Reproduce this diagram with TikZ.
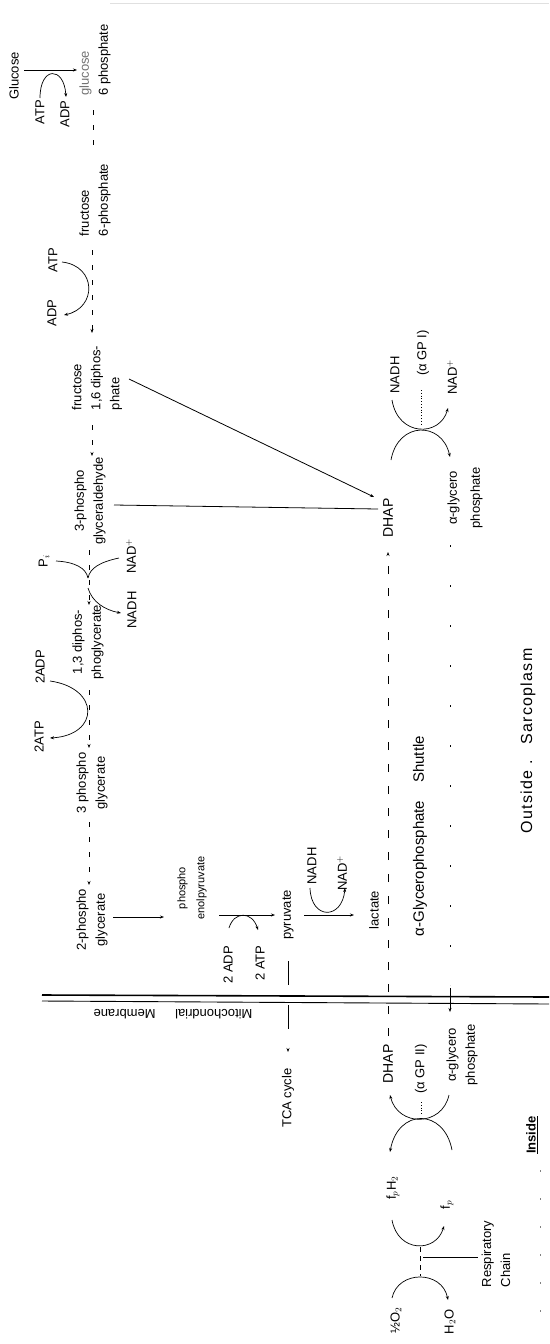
\documentclass[tikz,border=0pt]{standalone}
\usepackage{fontspec}
\setmainfont{Liberation Sans}
\usetikzlibrary{arrows.meta}
\begin{document}
\begin{tikzpicture}[x=1pt,y=-1pt,
  lbl/.style={rotate=90, inner sep=0pt, font=\fontsize{13}{19}\selectfont, align=center},
  lbll/.style={lbl, align=left},
  rxn/.style={line width=0.8pt},
  thinarc/.style={line width=0.7pt},
  faint/.style={line width=0.7pt, dash pattern=on 5pt off 10pt},
  arr/.style={-{Stealth[length=4pt,width=3pt]}},
]
\useasboundingbox (0,0) rectangle (549,1344);
\fill[white] (0,0) rectangle (549,1344);
\draw[black!12, line width=1pt] (110,3) -- (549,3);

% ---------- labels ----------
\node[lbl] (glc) at (14,76) {Glucose};
\node[lbl] (atpA) at (40,112) {ATP};
\node[lbl] (adpA) at (65,114) {ADP};
\node[lbll] (g6p) at (95,60) {{\color{black!55}glucose}\\6 phosphate};
\node[lbll] (f6p) at (95,200) {fructose\\6-phosphate};
\node[lbl] (atpB) at (53,260) {ATP};
\node[lbl] (adpB) at (52,313) {ADP};
\node[lbll] (f16) at (97,378) {fructose\\1,6 diphos-\\phate};
\node[lbl] (g3p) at (90,501) {3-phospho\\glyceraldehyde};
\node[lbl, font=\fontsize{14}{19}\selectfont] (dhapO) at (388,518) {DHAP};
\node[lbl] (nadhO) at (395,375) {NADH};
\node[lbl] (gp1) at (423,353) {(α GP I)};
\node[lbl] (nadO) at (452,377) {NAD$^+$};
\node[lbl, font=\fontsize{13}{23}\selectfont] (agpO) at (465,498) {α-glycero\\phosphate};
\node[lbl] (piN) at (44,561) {P$_i$};
\node[lbl] (nadB) at (131,556) {NAD$^+$};
\node[lbl] (nadhB) at (132,610) {NADH};
\node[lbl] (dpg) at (88,642) {1,3 diphos-\\phoglycerate};
\node[lbl] (adpC) at (40,667) {2ADP};
\node[lbl] (atpC) at (39,737) {2ATP};
\node[lbl] (pg3) at (92,783) {3 phospho\\glycerate};
\node[lbl] (pg2) at (92,920) {2-phospho\\glycerate};
\node[lbl, font=\fontsize{11}{19}\selectfont] (pep) at (192,888) {phospho\\enolpyruvate};
\node[lbl] (adpD) at (228,965) {2 ADP};
\node[lbl] (atpD) at (260,963) {2 ATP};
\node[lbl] (pyr) at (288,915) {pyruvate};
\node[lbl] (nadhD) at (312,866) {NADH};
\node[lbl] (nadD) at (342,873) {NAD$^+$};
\node[lbl] (lac) at (374,910) {lactate};
\node[lbl, font=\fontsize{15}{19}\selectfont] (shuttle) at (420,836) {α-Glycerophosphate\hspace{1.2em}Shuttle};
\node[lbl, font=\fontsize{16}{19}\selectfont\addfontfeatures{LetterSpace=8}] (outside) at (528,741) {Outside .\hspace{1em}Sarcoplasm};
\node[lbl, font=\bfseries\fontsize{13}{19}\selectfont] (inside) at (532,1135) {\underline{Inside}};
\node[rotate=180, inner sep=0pt, font=\fontsize{13}{19}\selectfont] (mem) at (173,1014) {Mitochondrial\hspace{1.5em}Membrane};
\node[lbl] (tca) at (288,1098) {TCA cycle};
\node[lbl, font=\fontsize{14}{19}\selectfont] (dhapI) at (388,1064) {DHAP};
\node[lbl] (gp2) at (421,1069) {(α GP II)};
\node[lbl] (agpI) at (462,1055) {α-glycero\\phosphate};
\node[lbl] (fph2) at (393,1188) {f$_p$H$_2$};
\node[lbl] (fp) at (447,1205) {f$_p$};
\node[lbll] (resp) at (496,1254) {Respiratory\\Chain};
\node[lbl] (o2) at (396,1320) {½O$_2$};
\node[lbl] (h2o) at (450,1322) {H$_2$O};

% ---------- glycolysis main path ----------
\draw[rxn, arr] (24,70) -- (77,70);
\draw[thinarc, arr] (40,98) .. controls (40,66) and (64,66) .. (66,97);
\draw[faint] (93,110) -- (93,152);
\draw[faint, arr] (92,250) -- (92,333);
\draw[thinarc, arr] (62,262) .. controls (97,266) and (97,308) .. (64,315);
\draw[faint, arr] (92,425) -- (92,456);
\draw[rxn, arr] (129,379) -- (374,497);
\draw[rxn] (114,505) -- (378,509);
\draw[faint, arr] (89,550) -- (89,605);
\draw[thinarc] (56,561) .. controls (75,562) and (86,568) .. (88,578);
\draw[thinarc] (119,558) .. controls (100,562) and (90,568) .. (88,578);
\draw[thinarc, arr] (88,588) .. controls (92,602) and (105,610) .. (121,613);
\draw[faint, arr] (89,690) -- (89,748);
\draw[thinarc, arr] (50,681) .. controls (100,688) and (100,735) .. (50,738);
\draw[faint, arr] (89,822) -- (89,885);
\draw[rxn, arr] (113,917) -- (164,917);
\draw[rxn, arr] (219,915) -- (275,915);
\draw[thinarc, arr] (229,928) .. controls (234,911) and (252,911) .. (258,930);
\draw[rxn, arr] (304,915) -- (354,915);
\draw[thinarc, arr] (310,888) .. controls (311,920) and (342,920) .. (345,888);
\draw[line width=0.8pt, dash pattern=on 24pt off 20pt, arr] (288,961) -- (288,1052);

% ---------- shuttle ----------
\draw[line width=0.8pt, dash pattern=on 8pt off 14pt, arr] (388,1036) -- (388,552);
\draw[line width=1pt, dash pattern=on 2pt off 38pt] (450,545) -- (450,985);
\draw[line width=0.8pt, arr] (450,988) -- (450,1012);
\draw[thinarc, arr] (392,400) .. controls (398,437) and (440,437) .. (448,408);
\draw[thinarc, arr] (391,460) .. controls (398,421) and (442,421) .. (450,457);
\draw[line width=0.8pt, dotted] (421,390) -- (421,424);

% ---------- inside ----------
\draw[thinarc, arr] (449,1095) .. controls (442,1127) and (398,1127) .. (390,1095);
\draw[thinarc, arr] (452,1150) .. controls (444,1108) and (398,1108) .. (390,1152);
\draw[line width=0.8pt, dotted] (421,1102) -- (421,1114);
\draw[thinarc, arr] (392,1220) .. controls (398,1253) and (436,1253) .. (444,1226);
\draw[thinarc, arr] (392,1298) .. controls (398,1270) and (442,1270) .. (448,1300);
\draw[thin, dash pattern=on 5pt off 4pt] (420,1247) -- (420,1276);
\draw[thinarc] (423,1257) -- (478,1257);

% ---------- membrane ----------
\draw[line width=1.6pt] (42,995) -- (549,997);
\draw[line width=0.9pt] (42,1001) -- (549,1004);
\draw[black!50, line width=0.8pt, dash pattern=on 2pt off 26pt] (540,1170) -- (540,1335);
\end{tikzpicture}
\end{document}
